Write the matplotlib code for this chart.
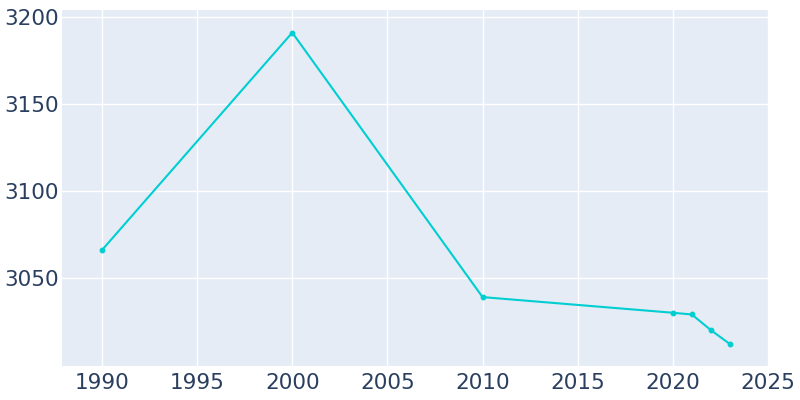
import matplotlib
matplotlib.use("Agg")
import matplotlib.pyplot as plt

# population by year
years = [1990, 2000, 2010, 2020, 2021, 2022, 2023]
population = [3066, 3191, 3039, 3030, 3029, 3020, 3012]

xticks = [1990, 1995, 2000, 2005, 2010, 2015, 2020, 2025]
yticks = [3050, 3100, 3150, 3200]

fig = plt.figure(figsize=(8, 4), dpi=100)
ax = fig.add_axes([0.0775, 0.085, 0.8825, 0.89])
ax.set_facecolor("#E5ECF6")

ax.plot(years, population, color="#00CED1", lw=1.5, marker="o", ms=3.2, zorder=3)

ax.set_xlim(1987.9, 2025)
ax.set_ylim(2999.4, 3204)
ax.set_xticks(xticks)
ax.set_yticks(yticks)
ax.grid(True, color="white", lw=1)
ax.set_axisbelow(True)
for s in ax.spines.values():
    s.set_visible(False)
ax.tick_params(length=0, labelsize=15.5, labelcolor="#2A3F5F")
ax.tick_params(axis="y", pad=2)
ax.tick_params(axis="x", pad=5)

fig.savefig("out.png")
